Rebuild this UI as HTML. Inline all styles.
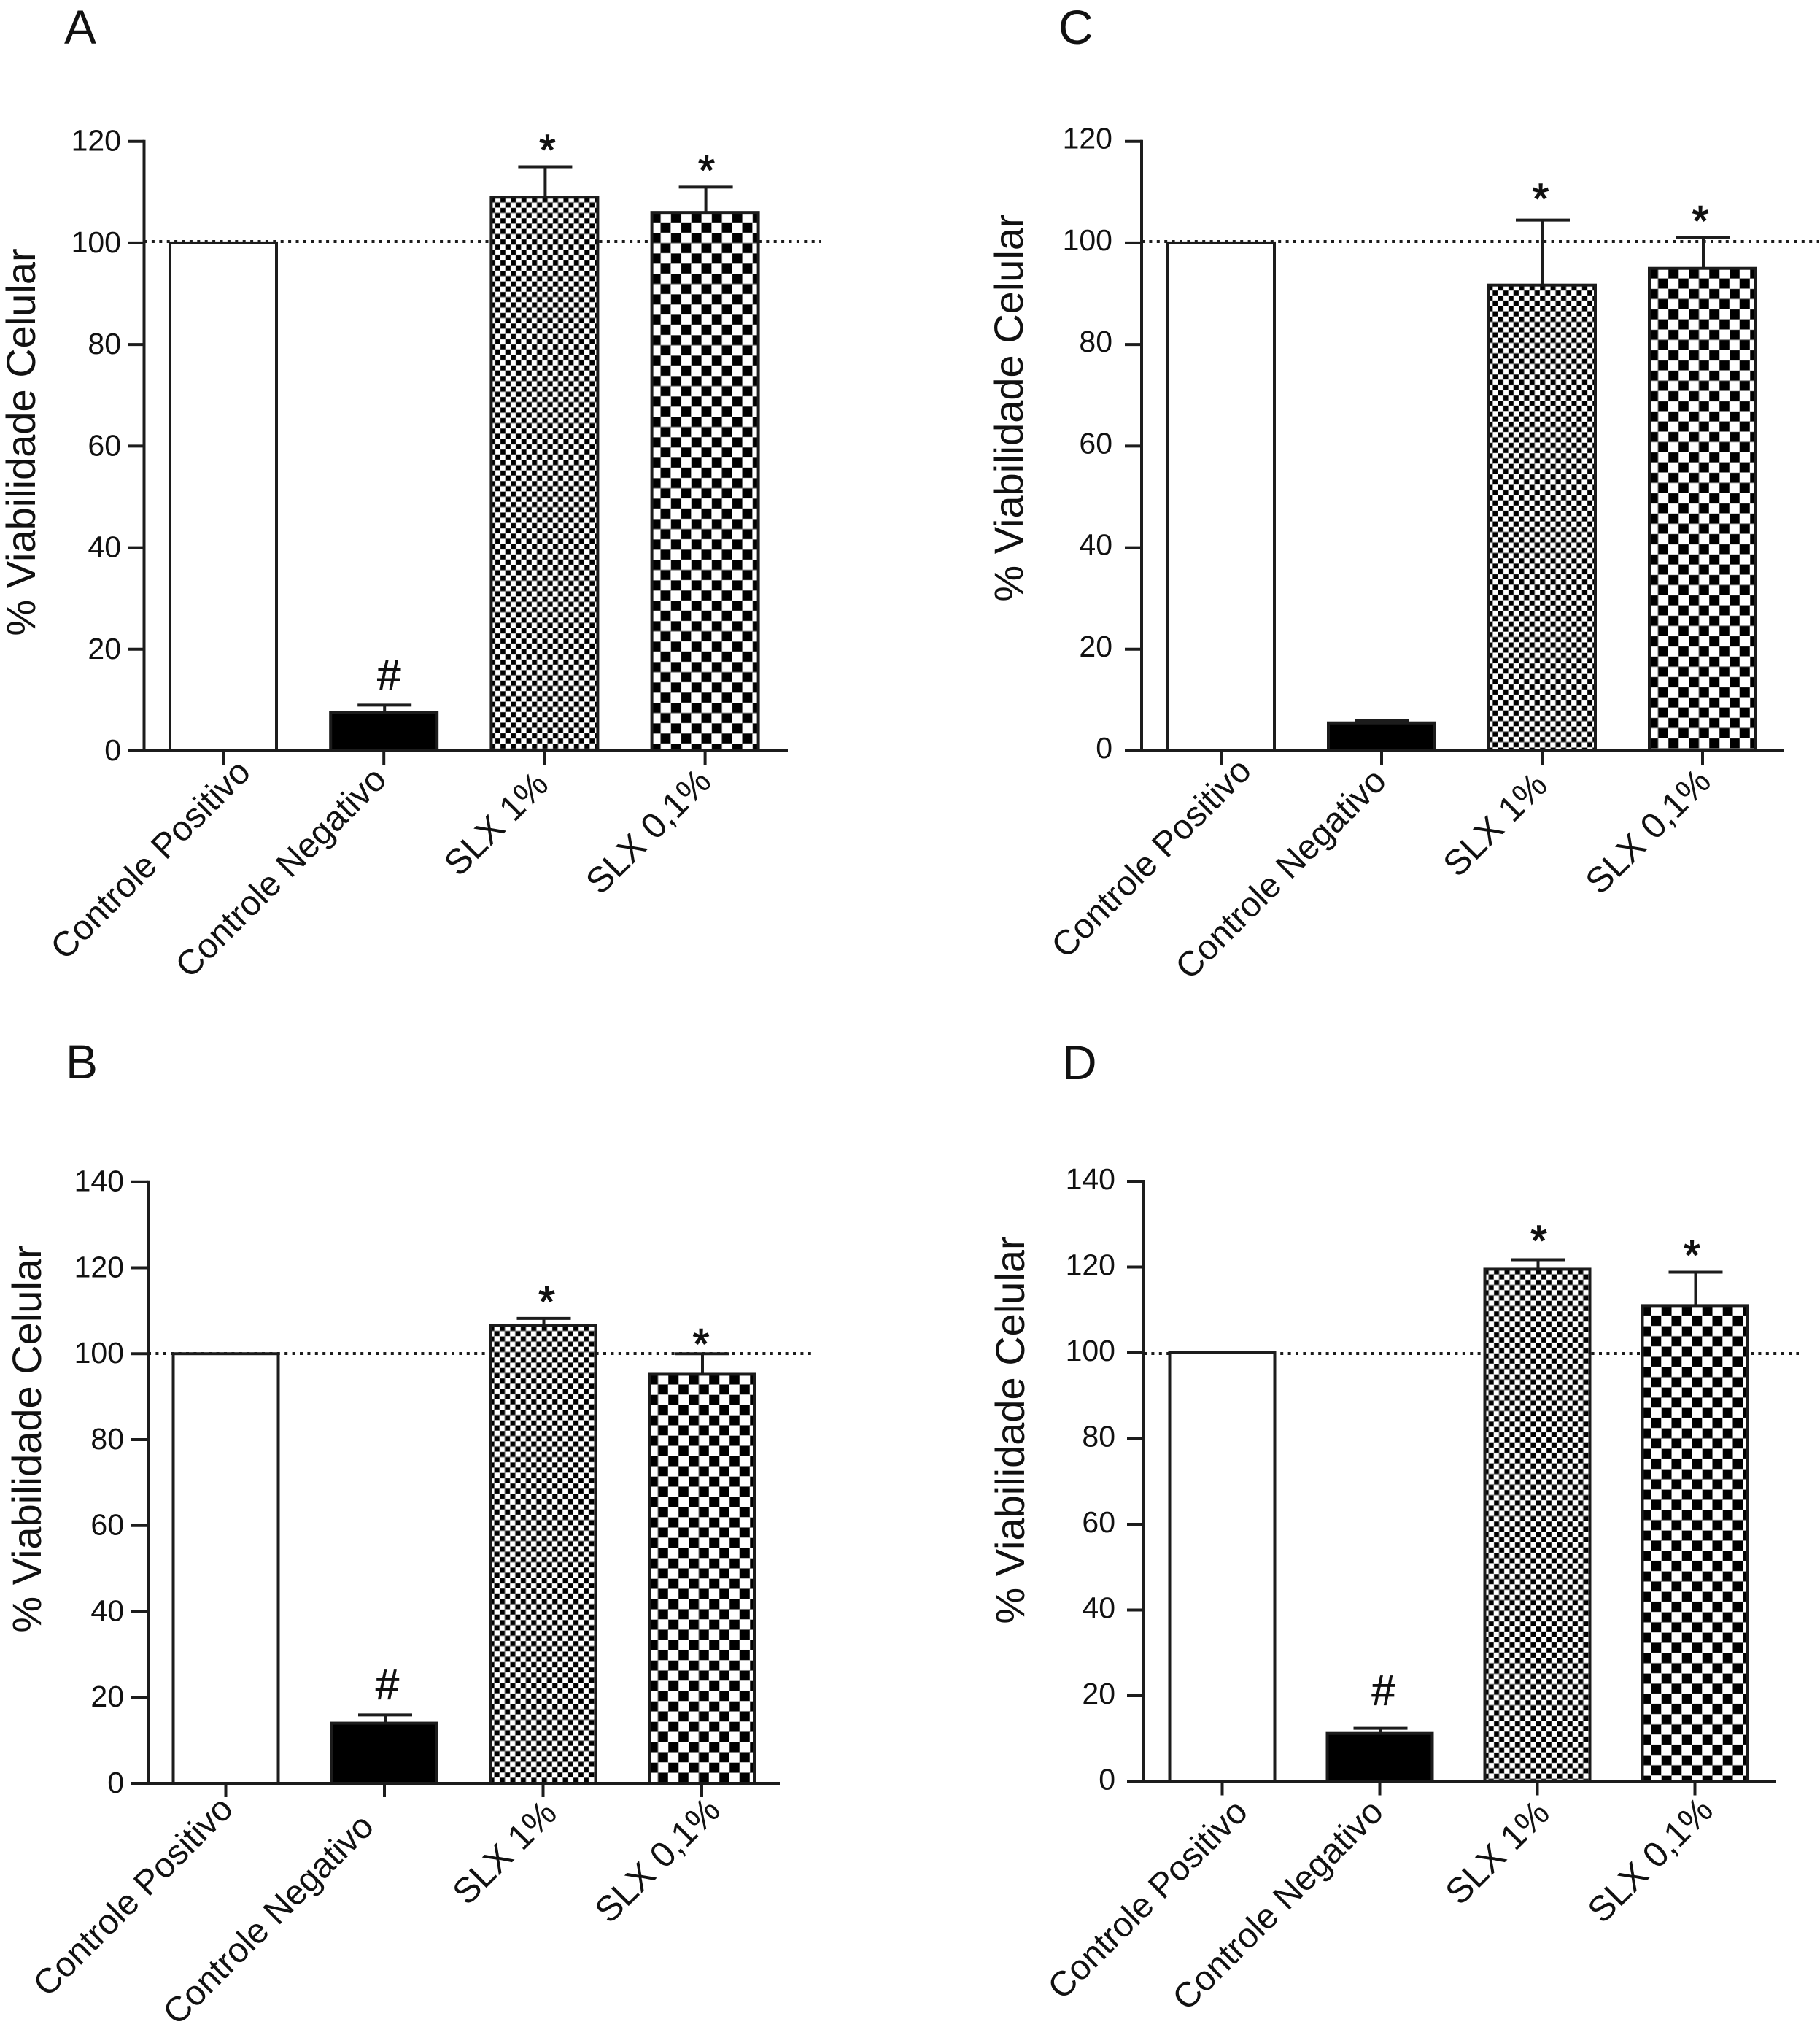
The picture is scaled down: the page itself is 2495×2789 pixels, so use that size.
<!DOCTYPE html>
<html lang="pt">
<head>
<meta charset="utf-8">
<title>Viabilidade Celular</title>
<style>
html,body{margin:0;padding:0;background:#fff;}
#figure{display:block;width:2495px;height:2789px;}
text{font-family:"Liberation Sans",Arial,sans-serif;fill:#111;}
</style>
</head>
<body>
<svg id="figure" xmlns="http://www.w3.org/2000/svg" width="2495" height="2789" viewBox="0 0 2495 2789"></svg>
<script>
// ---- chart data ----
const categories = ['Controle Positivo', 'Controle Negativo', 'SLX 1%', 'SLX 0,1%'];
const yAxisTitle = '% Viabilidade Celular';
const referenceValue = 100;

const ticksA = [0, 20, 40, 60, 80, 100, 120];
const valuesA = [100, 7.5, 109, 106];
const errorsA = [0, 1.5, 6, 5];
const marksA = ['', '#', '*', '*'];

const ticksB = [0, 20, 40, 60, 80, 100, 120, 140];
const valuesB = [100, 14, 106.5, 95.2];
const errorsB = [0, 1.9, 1.7, 4.8];
const marksB = ['', '#', '*', '*'];

const ticksC = [0, 20, 40, 60, 80, 100, 120];
const valuesC = [100, 5.5, 91.7, 95];
const errorsC = [0, 0.5, 12.8, 6];
const marksC = ['', '', '*', '*'];

const ticksD = [0, 20, 40, 60, 80, 100, 120, 140];
const valuesD = [100, 11.2, 119.5, 111];
const errorsD = [0, 1.2, 2.2, 7.8];
const marksD = ['', '#', '*', '*'];

// ---- layout (pixels, separate from the data) ----
const layoutA = {key:'a', letter:'A', letterX:88, letterY:60, axisX:197.5, tickLeft:176, axisRight:1080, yTop:193.7, yZero:1029,
  bandStart:306, bandStep:220.2, barWidth:150, refEnd:1125, refY:331, tickLabelGap:10, tickLabelDy:13,
  titleX:48, titleY:606, labelDx:[40,6,8,11], labelY:[1061,1071,1078,1074], markDx:[0,7,4,2], markDy:[0,0,0,0]};
const layoutB = {key:'b', letter:'B', letterX:90, letterY:1478, axisX:203, tickLeft:180, axisRight:1069, yTop:1619.7, yZero:2444,
  bandStart:309.5, bandStep:217.5, barWidth:148, refEnd:1117, refY:1855, tickLabelGap:10, tickLabelDy:13,
  titleX:56, titleY:1972, labelDx:[12.5,-12,21.5,28], labelY:[2482,2506,2488,2484], markDx:[0,4,5,-1], markDy:[0,0,0,10]};
const layoutC = {key:'c', letter:'C', letterX:1451, letterY:60, axisX:1565, tickLeft:1542, axisRight:2445, yTop:193.7, yZero:1029,
  bandStart:1674, bandStep:220, barWidth:150, refEnd:2493, refY:331, tickLabelGap:17, tickLabelDy:10,
  titleX:1402, titleY:559, labelDx:[44,9,10,14], labelY:[1059,1073,1079,1074], markDx:[0,0,-2,-3], markDy:[0,0,-6,0]};
const layoutD = {key:'d', letter:'D', letterX:1456, letterY:1479, axisX:1568, tickLeft:1545, axisRight:2435, yTop:1619, yZero:2441.5,
  bandStart:1675.5, bandStep:216, barWidth:148, refEnd:2466, refY:1855, tickLabelGap:16, tickLabelDy:11,
  titleX:1404, titleY:1960, labelDx:[37.5,7.5,19.5,27.5], labelY:[2486,2486,2488,2484], markDx:[0,5,2,-4], markDy:[0,-10,-3,0]};

const INK = '#1c1c1c';
const NS = 'http://www.w3.org/2000/svg';
const figure = document.getElementById('figure');
const defs = document.createElementNS(NS, 'defs');
figure.appendChild(defs);

function node(tag, parent, attrs) {
  const el = document.createElementNS(NS, tag);
  for (const k in attrs) el.setAttribute(k, attrs[k]);
  parent.appendChild(el);
  return el;
}

function checkerPattern(id, cell, x, y) {
  const p = node('pattern', defs, {id:id, patternUnits:'userSpaceOnUse', width:cell*2, height:cell*2,
    patternTransform:'translate(' + x + ' ' + y + ')'});
  node('rect', p, {x:0, y:0, width:cell*2, height:cell*2, fill:'#fff'});
  node('rect', p, {x:0, y:0, width:cell, height:cell, fill:'#000', stroke:'#777', 'stroke-width':1});
  node('rect', p, {x:cell, y:cell, width:cell, height:cell, fill:'#000', stroke:'#777', 'stroke-width':1});
}

function drawPanel(layout, categoriesList, ticks, values, errors, marks) {
  const yMax = ticks[ticks.length - 1];
  const yScale = function (v) { return layout.yZero - (v / yMax) * (layout.yZero - layout.yTop); };
  const xScale = function (i) { return layout.bandStart + i * layout.bandStep; };

  const panel = node('g', figure, {});
  
  

  const letter = node('text', panel, {x:layout.letterX, y:layout.letterY, 'font-size':66});
  letter.textContent = layout.letter;
  
  

  const title = node('text', panel, {'font-size':56, 'text-anchor':'middle',
    transform:'translate(' + layout.titleX + ' ' + layout.titleY + ') rotate(-90)'});
  title.textContent = yAxisTitle;
  
  

  const refLine = node('line', panel, {x1:layout.axisX, x2:layout.refEnd, y1:layout.refY, y2:layout.refY,
    stroke:INK, 'stroke-width':4, 'stroke-dasharray':'4 6.4'});
  
  

  values.forEach(function (value, i) {
    const cx = xScale(i);
    const left = cx - layout.barWidth / 2;
    const top = yScale(value);
    let fill = '#fff';
    if (i === 1) fill = '#000';
    if (i === 2) {
      const id = 'fine-' + layout.key;
      checkerPattern(id, 7.2, left, top);
      fill = 'url(#' + id + ')';
    }
    if (i === 3) {
      const id = 'coarse-' + layout.key;
      checkerPattern(id, 14, left, top);
      fill = 'url(#' + id + ')';
    }

    if (errors[i] > 0) {
      const errTop = yScale(value + errors[i]);
      const stem = node('line', panel, {x1:cx + 1, x2:cx + 1, y1:top, y2:errTop, stroke:INK, 'stroke-width':4});
      
      
      const cap = node('line', panel, {x1:cx - 36, x2:cx + 38, y1:errTop, y2:errTop, stroke:INK, 'stroke-width':4});
      
      
    }

    const bar = node('rect', panel, {x:left + 2, y:top, width:layout.barWidth - 4, height:layout.yZero - top,
      fill:fill, stroke:INK, 'stroke-width':4});
    
    

    const xTick = node('line', panel, {x1:cx, x2:cx, y1:layout.yZero, y2:layout.yZero + 19, stroke:INK, 'stroke-width':4});
    
    

    const ax = cx + layout.labelDx[i];
    const ay = layout.labelY[i];
    const label = node('text', panel, {'font-size':i < 2 ? 48 : 49, 'text-anchor':'end',
      transform:'translate(' + ax + ' ' + ay + ') rotate(-45)'});
    label.textContent = categoriesList[i];
    
    

    if (marks[i]) {
      const errTop = yScale(value + errors[i]);
      const isHash = marks[i] === '#';
      const mark = node('text', panel, {x:cx + layout.markDx[i], 'text-anchor':'middle',
        y:errTop + layout.markDy[i] + (isHash ? -22 : -3), 'font-size':58,
        stroke:'#111', 'stroke-width':isHash ? 0.8 : 1.4});
      mark.textContent = marks[i];
      
      
    }
  });

  ticks.forEach(function (tick) {
    const y = yScale(tick);
    const tl = node('line', panel, {x1:layout.tickLeft, x2:layout.axisX, y1:y, y2:y, stroke:INK, 'stroke-width':4});
    
    
    const tt = node('text', panel, {x:layout.tickLeft - layout.tickLabelGap, y:y + layout.tickLabelDy, 'font-size':41, 'text-anchor':'end'});
    tt.textContent = String(tick);
    
    
  });

  const yAxis = node('line', panel, {x1:layout.axisX, x2:layout.axisX, y1:layout.yTop - 2, y2:layout.yZero + 2, stroke:INK, 'stroke-width':4});
  
  
  const xAxis = node('line', panel, {x1:layout.tickLeft, x2:layout.axisRight, y1:layout.yZero, y2:layout.yZero, stroke:INK, 'stroke-width':4});
  
  
}

drawPanel(layoutA, categories, ticksA, valuesA, errorsA, marksA);
drawPanel(layoutB, categories, ticksB, valuesB, errorsB, marksB);
drawPanel(layoutC, categories, ticksC, valuesC, errorsC, marksC);
drawPanel(layoutD, categories, ticksD, valuesD, errorsD, marksD);
</script>
</body>
</html>
